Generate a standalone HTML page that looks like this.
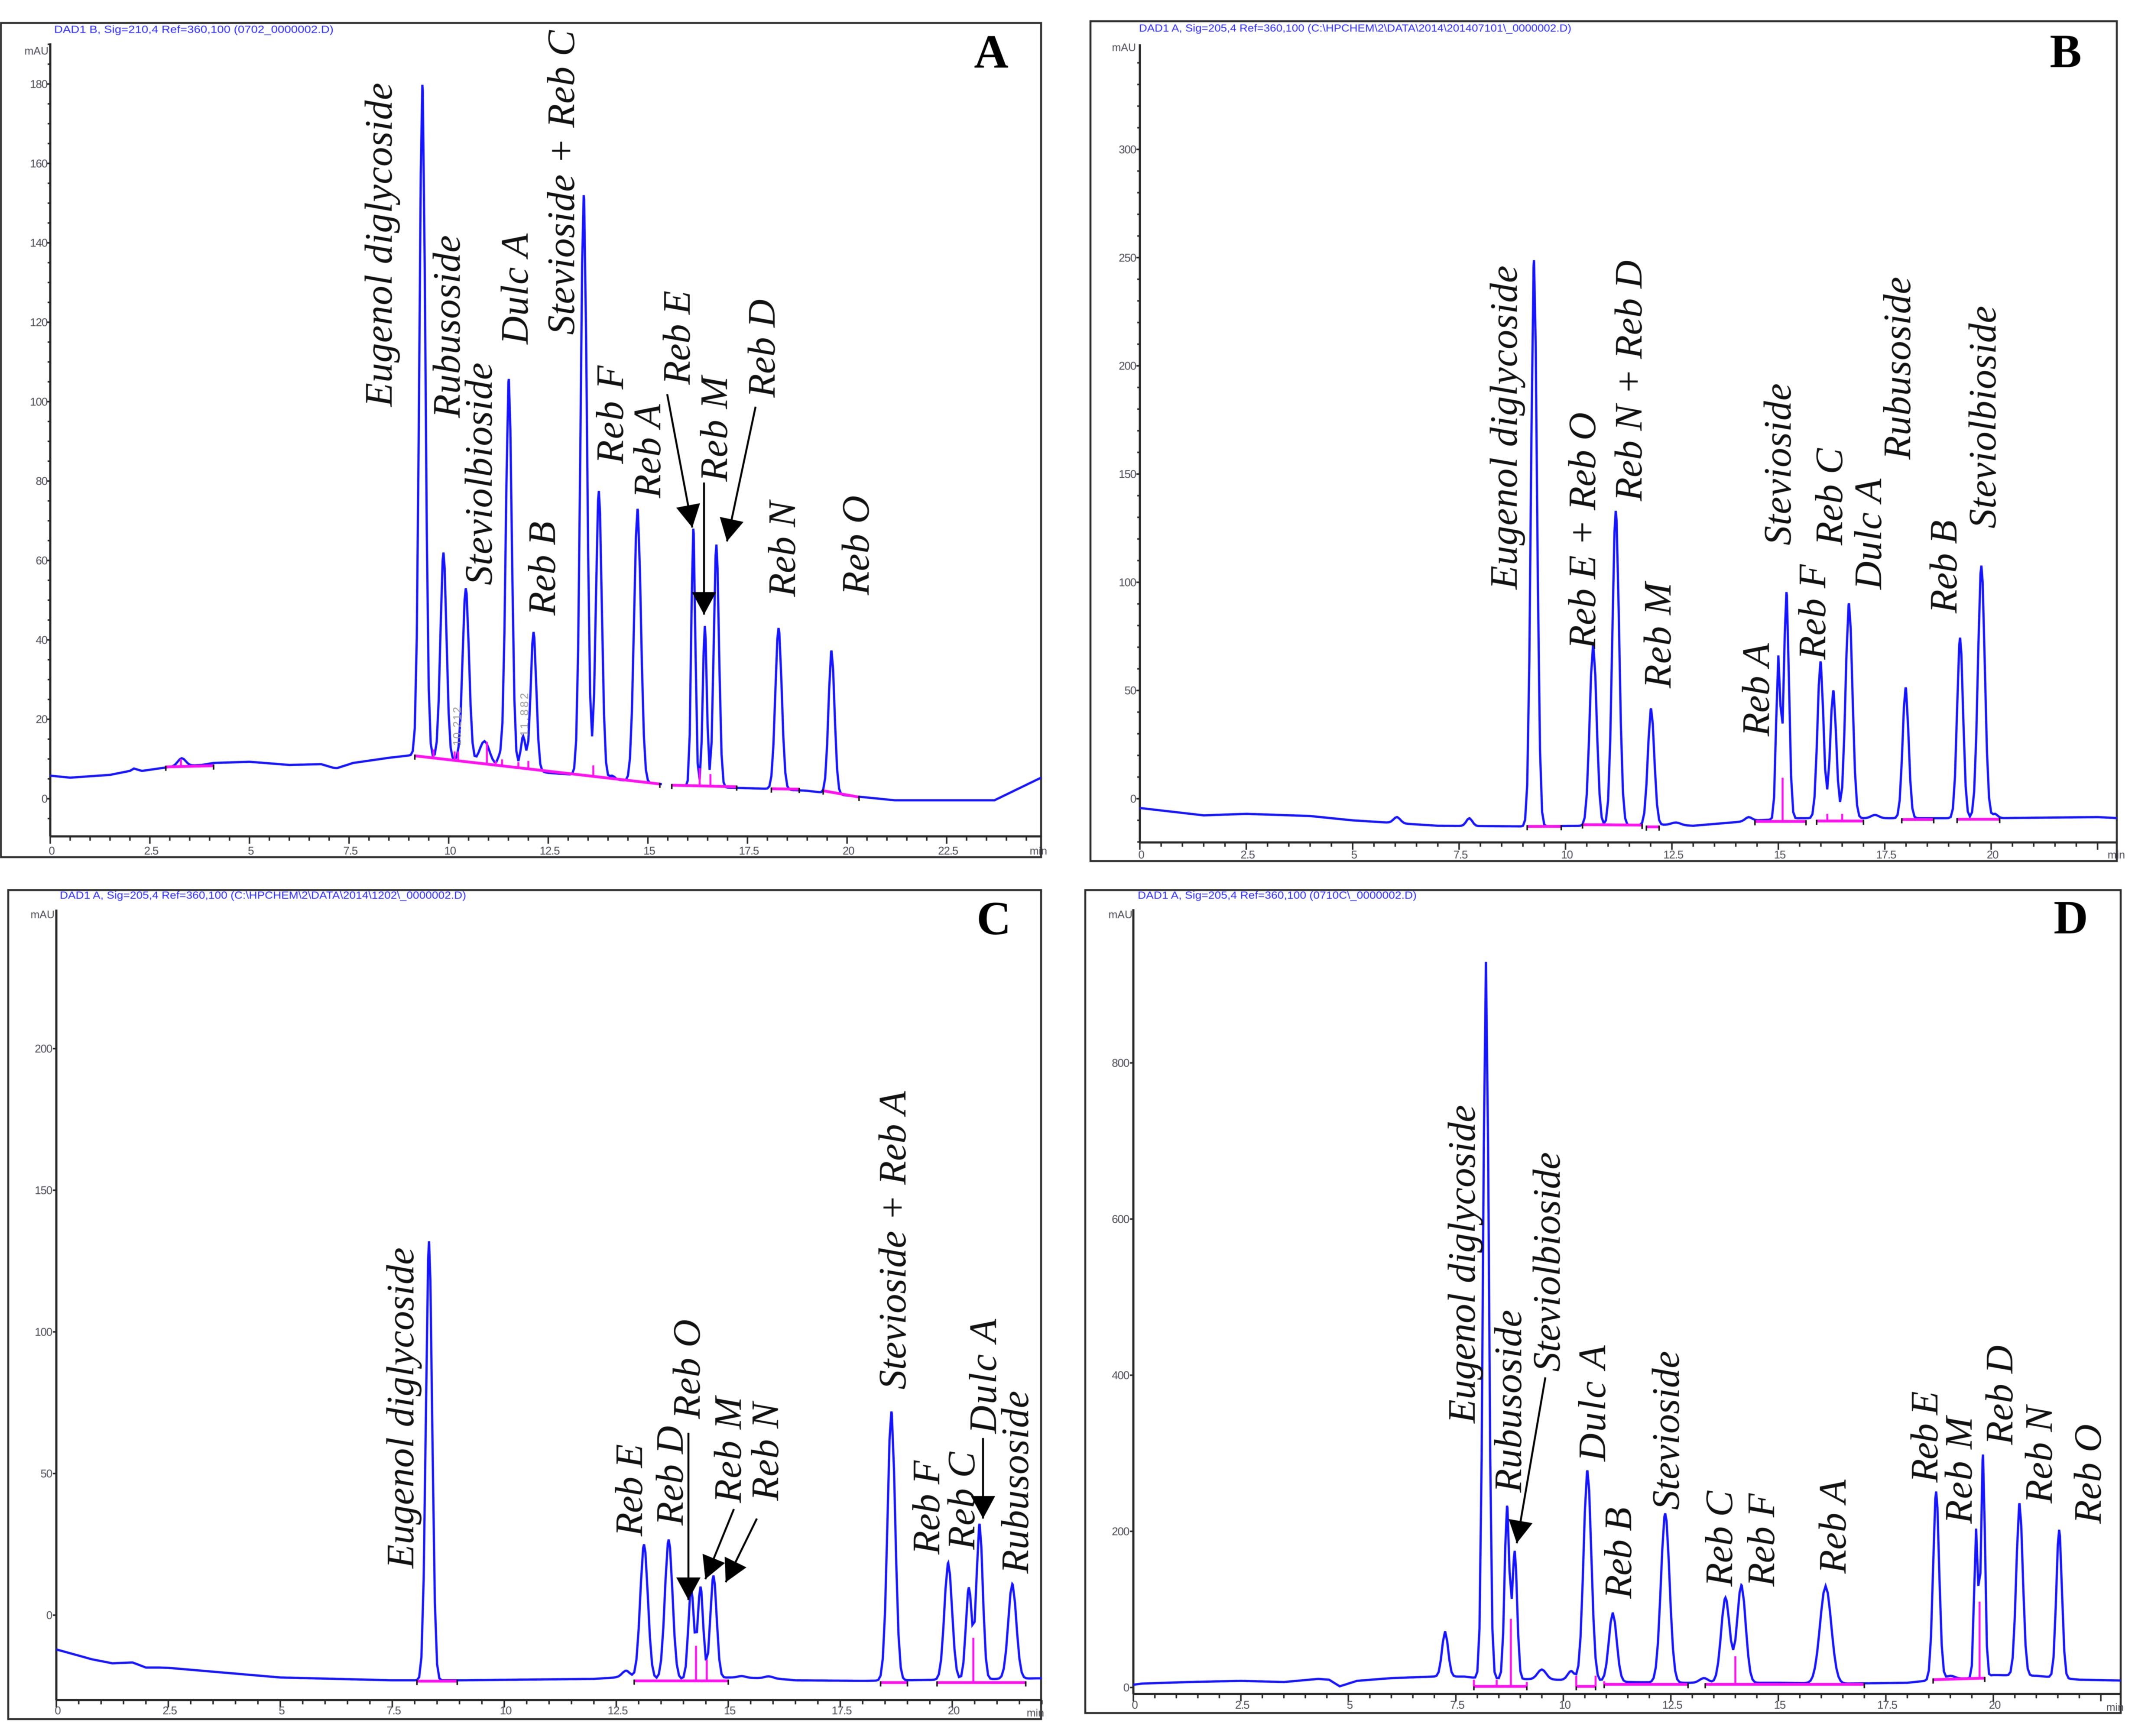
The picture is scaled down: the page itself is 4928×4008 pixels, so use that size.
<!DOCTYPE html>
<html lang="en">
<head>
<meta charset="utf-8">
<title>HPLC chromatograms A–D</title>
<style>
html,body{margin:0;padding:0;background:#fff;width:4928px;height:4008px;overflow:hidden}
svg{display:block;filter:blur(0.6px)}
.compound{font-family:"Liberation Serif",serif;font-style:italic;font-size:90px;fill:#111}
.letter{font-family:"Liberation Serif",serif;font-weight:bold;font-size:110px;fill:#000;text-anchor:middle}
.title{font-family:"Liberation Sans",sans-serif;font-size:24px;fill:#2a2aff}
.unit{font-family:"Liberation Sans",sans-serif;font-size:25px;fill:#4a4a55;text-anchor:end}
.rt{font-family:"Liberation Sans",sans-serif;font-size:26px;fill:#999}
.arrow{stroke:#000;stroke-width:4.5;fill:none}
.frame{fill:none;stroke:#2c2c2c;stroke-width:4.5}
</style>
</head>
<body>
<svg id="chart" xmlns="http://www.w3.org/2000/svg" width="4928" height="4008" viewBox="0 0 4928 4008">
  <defs>
    <marker id="arrowhead" markerUnits="userSpaceOnUse" markerWidth="54" markerHeight="56" refX="52" refY="28" orient="auto">
      <path d="M0 0 L52 28 L0 56 Z" fill="#000"></path>
    </marker>
  </defs>
  <rect x="0" y="0" width="4928" height="4008" fill="#fff"></rect>

  <g id="panel-a">
    <rect class="frame" x="2" y="53" width="2401" height="1926"></rect>
    <text class="title" x="125" y="76" textLength="645" lengthAdjust="spacingAndGlyphs">DAD1 B, Sig=210,4 Ref=360,100 (0702_0000002.D)</text>
    <text class="unit" x="112" y="126">mAU</text>
    <text class="unit" x="2417" y="1973">min</text>
    <text class="letter" x="2288" y="156">A</text>
  </g>
  <g id="panel-b">
    <rect class="frame" x="2517" y="49" width="2369" height="1939"></rect>
    <text class="title" x="2629" y="73" textLength="998" lengthAdjust="spacingAndGlyphs">DAD1 A, Sig=205,4 Ref=360,100 (C:\HPCHEM\2\DATA\2014\201407101\_0000002.D)</text>
    <text class="unit" x="2622" y="118">mAU</text>
    <text class="unit" x="4905" y="1982">min</text>
    <text class="letter" x="4768" y="155">B</text>
  </g>
  <g id="panel-c">
    <rect class="frame" x="19" y="2055" width="2384" height="1914"></rect>
    <text class="title" x="138" y="2075" textLength="938" lengthAdjust="spacingAndGlyphs">DAD1 A, Sig=205,4 Ref=360,100 (C:\HPCHEM\2\DATA\2014\1202\_0000002.D)</text>
    <text class="unit" x="126" y="2120">mAU</text>
    <text class="unit" x="2410" y="3963">min</text>
    <text class="letter" x="2294" y="2157">C</text>
  </g>
  <g id="panel-d">
    <rect class="frame" x="2505" y="2055" width="2390" height="1900"></rect>
    <text class="title" x="2626" y="2075" textLength="644" lengthAdjust="spacingAndGlyphs">DAD1 A, Sig=205,4 Ref=360,100 (0710C\_0000002.D)</text>
    <text class="unit" x="2614" y="2120">mAU</text>
    <text class="unit" x="4902" y="3950">min</text>
    <text class="letter" x="4780" y="2155">D</text>
  </g>

  <g id="overlay">
    <!-- retention time remnants in panel A -->
    <text class="rt" transform="translate(1064 1722) rotate(-90)" textLength="90">10.212</text>
    <text class="rt" transform="translate(1219 1700) rotate(-90)" textLength="100">11.882</text>

    <!-- Panel A peak labels -->
    <text class="compound" transform="translate(904 939) rotate(-90)" textLength="748">Eugenol diglycoside</text>
    <text class="compound" transform="translate(1061 965) rotate(-90)" textLength="422">Rubusoside</text>
    <text class="compound" transform="translate(1135 1351) rotate(-90)" textLength="514">Steviolbioside</text>
    <text class="compound" transform="translate(1218 795) rotate(-90)" textLength="256">Dulc A</text>
    <text class="compound" transform="translate(1325 773) rotate(-90)" textLength="703">Stevioside + Reb C</text>
    <text class="compound" transform="translate(1281 1421) rotate(-90)" textLength="217">Reb B</text>
    <text class="compound" transform="translate(1438 1071) rotate(-90)" textLength="227">Reb F</text>
    <text class="compound" transform="translate(1524 1150) rotate(-90)" textLength="217">Reb A</text>
    <text class="compound" transform="translate(1592 888) rotate(-90)" textLength="217">Reb E</text>
    <text class="compound" transform="translate(1678 1112) rotate(-90)" textLength="243">Reb M</text>
    <text class="compound" transform="translate(1788 918) rotate(-90)" textLength="227">Reb D</text>
    <text class="compound" transform="translate(1835 1378) rotate(-90)" textLength="221">Reb N</text>
    <text class="compound" transform="translate(2005 1374) rotate(-90)" textLength="230">Reb O</text>
    <line class="arrow" x1="1540" y1="910" x2="1598" y2="1218" marker-end="url(#arrowhead)"></line>
    <line class="arrow" x1="1625" y1="1114" x2="1625" y2="1419" marker-end="url(#arrowhead)"></line>
    <line class="arrow" x1="1744" y1="939" x2="1678" y2="1250" marker-end="url(#arrowhead)"></line>

    <!-- Panel B peak labels -->
    <text class="compound" transform="translate(3501 1361) rotate(-90)" textLength="748">Eugenol diglycoside</text>
    <text class="compound" transform="translate(3682 1498) rotate(-90)" textLength="546">Reb E + Reb O</text>
    <text class="compound" transform="translate(3789 1157) rotate(-90)" textLength="556">Reb N + Reb D</text>
    <text class="compound" transform="translate(3856 1589) rotate(-90)" textLength="244">Reb M</text>
    <text class="compound" transform="translate(4083 1700) rotate(-90)" textLength="215">Reb A</text>
    <text class="compound" transform="translate(4133 1259) rotate(-90)" textLength="374">Stevioside</text>
    <text class="compound" transform="translate(4213 1523) rotate(-90)" textLength="220">Reb F</text>
    <text class="compound" transform="translate(4252 1259) rotate(-90)" textLength="224">Reb C</text>
    <text class="compound" transform="translate(4342 1361) rotate(-90)" textLength="256">Dulc A</text>
    <text class="compound" transform="translate(4409 1061) rotate(-90)" textLength="422">Rubusoside</text>
    <text class="compound" transform="translate(4516 1416) rotate(-90)" textLength="215">Reb B</text>
    <text class="compound" transform="translate(4606 1220) rotate(-90)" textLength="514">Steviolbioside</text>

    <!-- Panel C peak labels -->
    <text class="compound" transform="translate(954 3621) rotate(-90)" textLength="741">Eugenol diglycoside</text>
    <text class="compound" transform="translate(1482 3547) rotate(-90)" textLength="213">Reb E</text>
    <text class="compound" transform="translate(1576 3522) rotate(-90)" textLength="230">Reb D</text>
    <text class="compound" transform="translate(1615 3276) rotate(-90)" textLength="230">Reb O</text>
    <text class="compound" transform="translate(1710 3470) rotate(-90)" textLength="245">Reb M</text>
    <text class="compound" transform="translate(1796 3465) rotate(-90)" textLength="227">Reb N</text>
    <text class="compound" transform="translate(2090 3208) rotate(-90)" textLength="689">Stevioside + Reb A</text>
    <text class="compound" transform="translate(2168 3589) rotate(-90)" textLength="217">Reb F</text>
    <text class="compound" transform="translate(2249 3578) rotate(-90)" textLength="226">Reb C</text>
    <text class="compound" transform="translate(2299 3310) rotate(-90)" textLength="265">Dulc A</text>
    <text class="compound" transform="translate(2373 3633) rotate(-90)" textLength="422">Rubusoside</text>
    <line class="arrow" x1="1589" y1="3308" x2="1589" y2="3694" marker-end="url(#arrowhead)"></line>
    <line class="arrow" x1="1694" y1="3484" x2="1628" y2="3646" marker-end="url(#arrowhead)"></line>
    <line class="arrow" x1="1747" y1="3506" x2="1675" y2="3653" marker-end="url(#arrowhead)"></line>
    <line class="arrow" x1="2269" y1="3320" x2="2269" y2="3506" marker-end="url(#arrowhead)"></line>

    <!-- Panel D peak labels -->
    <text class="compound" transform="translate(3404 3286) rotate(-90)" textLength="735">Eugenol diglycoside</text>
    <text class="compound" transform="translate(3511 3446) rotate(-90)" textLength="422">Rubusoside</text>
    <text class="compound" transform="translate(3600 3167) rotate(-90)" textLength="507">Steviolbioside</text>
    <text class="compound" transform="translate(3705 3374) rotate(-90)" textLength="268">Dulc A</text>
    <text class="compound" transform="translate(3765 3691) rotate(-90)" textLength="211">Reb B</text>
    <text class="compound" transform="translate(3875 3486) rotate(-90)" textLength="367">Stevioside</text>
    <text class="compound" transform="translate(3998 3663) rotate(-90)" textLength="221">Reb C</text>
    <text class="compound" transform="translate(4095 3663) rotate(-90)" textLength="215">Reb F</text>
    <text class="compound" transform="translate(4260 3633) rotate(-90)" textLength="217">Reb A</text>
    <text class="compound" transform="translate(4472 3423) rotate(-90)" textLength="211">Reb E</text>
    <text class="compound" transform="translate(4551 3518) rotate(-90)" textLength="247">Reb M</text>
    <text class="compound" transform="translate(4645 3336) rotate(-90)" textLength="230">Reb D</text>
    <text class="compound" transform="translate(4736 3471) rotate(-90)" textLength="225">Reb N</text>
    <text class="compound" transform="translate(4849 3518) rotate(-90)" textLength="230">Reb O</text>
    <line class="arrow" x1="3567" y1="3180" x2="3501" y2="3563" marker-end="url(#arrowhead)"></line>
  </g>
</svg>

<script>
/* ---------- Panel A data ---------- */
const aYTickLabels = ['0','20','40','60','80','100','120','140','160','180'];
const aXTickLabels = ['0','2.5','5','7.5','10','12.5','15','17.5','20','22.5'];
const aPeakTimes   = [3.3, 9.34, 9.87, 10.43, 10.9, 11.28, 11.51, 11.87, 12.13, 13.39, 13.77, 14.1, 14.74, 16.14, 16.43, 16.72, 18.28, 19.61];
const aPeakHeights = [10.2, 179.8, 62, 53, 14.5, 10.5, 105.7, 15.7, 42, 152, 77.5, 5.8, 73, 68, 43.5, 64, 43, 37.3];
const aPeakWidths  = [0.1, 0.075, 0.075, 0.08, 0.12, 0.05, 0.075, 0.06, 0.07, 0.08, 0.075, 0.07, 0.085, 0.05, 0.05, 0.065, 0.08, 0.075];
const aBaseTimes   = [0, 0.5, 1.5, 2, 2.1, 2.3, 3, 3.8, 4.1, 5, 6, 6.8, 7.1, 7.2, 7.6, 8.5, 9.1, 10, 11, 12, 12.5, 13.2, 14, 15, 15.4, 16.5, 17, 18, 19, 20, 21.2, 23.7, 24.85];
const aBaseValues  = [5.8, 5.3, 6, 7, 7.6, 7, 8, 8.5, 9, 9.3, 8.5, 8.7, 7.8, 7.7, 9, 10.3, 11, 10, 8.7, 7.5, 6.5, 6, 5, 4, 3.6, 3, 2.8, 2.5, 2, 0.8, -0.4, -0.4, 5.2];
const aTraceGapStarts = [15.35];
const aTraceGapEnds   = [15.96];
const aPinkStarts = [2.9, 9.15, 15.6, 18.1, 19.4];
const aPinkEnds   = [4.1, 15.3, 17.23, 18.8, 20.3];
const aPinkFrom   = [8, 10.8, 3.4, 2.5, 2];
const aPinkTo     = [8.3, 3.7, 3, 2.4, 0.4];
const aDropTimes  = [3.28, 9.62, 10.15, 10.24, 10.96, 11.18, 11.34, 11.75, 12.0, 13.63, 16.3, 16.57];
const aDropTops   = [10, 12.4, 11.9, 11.9, 14.3, 9.5, 9.9, 9.2, 9.5, 8.4, 7.7, 6.2];

/* ---------- Panel B data ---------- */
const bYTickLabels = ['0','50','100','150','200','250','300'];
const bXTickLabels = ['0','2.5','5','7.5','10','12.5','15','17.5','20'];
const bPeakTimes   = [6.04, 7.74, 9.26, 10.65, 11.18, 12.01, 12.6, 14.3, 15.0, 15.19, 15.99, 16.29, 16.66, 17.27, 17.99, 19.27, 19.77, 20.09];
const bPeakHeights = [-8.5, -9, 248.8, 72, 133, 41.7, -11, -8.5, 65.5, 95.4, 63.4, 50, 90.3, -7.5, 51.4, 74.4, 107.7, -7];
const bPeakWidths  = [0.08, 0.07, 0.07, 0.08, 0.08, 0.075, 0.1, 0.08, 0.05, 0.06, 0.07, 0.07, 0.08, 0.09, 0.07, 0.07, 0.08, 0.06];
const bBaseTimes   = [0, 1.5, 2.5, 4, 5, 7, 9, 10.5, 12.5, 13, 14.5, 15.5, 17, 18, 20, 22.5, 23];
const bBaseValues  = [-4.3, -7.7, -7, -8, -10, -12.5, -12.8, -12.5, -12, -12.5, -10, -9, -9, -9, -9, -8.5, -9];
const bTraceGapStarts = [];
const bTraceGapEnds   = [];
const bPinkStarts = [9.1, 10.4, 11.9, 14.45, 15.9, 17.9, 19.2];
const bPinkEnds   = [9.9, 11.8, 12.2, 15.65, 17, 18.65, 20.2];
const bPinkFrom   = [-12.8, -12, -13, -10.5, -10.3, -9.6, -9.5];
const bPinkTo     = [-12.8, -12.2, -13, -10.5, -10.3, -9.6, -9.5];
const bDropTimes  = [15.1, 16.15, 16.5];
const bDropTops   = [9.7, -7, -7];

/* ---------- Panel C data ---------- */
const cYTickLabels = ['0','50','100','150','200'];
const cXTickLabels = ['0','2.5','5','7.5','10','12.5','15','17.5','20'];
const cPeakTimes   = [8.32, 12.72, 13.12, 13.67, 14.17, 14.38, 14.67, 15.3, 15.9, 18.64, 19.91, 20.37, 20.61, 21.34];
const cPeakHeights = [132, -19.6, 25, 26.7, 9.7, 10, 14, -21.5, -21.6, 71.9, 18.5, 9.7, 32.2, 11];
const cPeakWidths  = [0.07, 0.09, 0.085, 0.085, 0.06, 0.06, 0.07, 0.09, 0.09, 0.085, 0.085, 0.065, 0.07, 0.09];
const cBaseTimes   = [0, 0.8, 1.25, 1.7, 2, 2.3, 2.5, 5, 7.5, 9, 12, 12.5, 13.6, 15, 16, 16.5, 18, 21.9];
const cBaseValues  = [-12.1, -15.6, -17, -16.7, -18.5, -18.5, -18.6, -22, -23, -23, -22.5, -22, -22.7, -22, -22.3, -23, -23.2, -22.3];
const cTraceGapStarts = [];
const cTraceGapEnds   = [];
const cPinkStarts = [8.05, 12.9, 18.4, 19.66];
const cPinkEnds   = [8.95, 15, 19, 21.64];
const cPinkFrom   = [-23.3, -23.2, -23.8, -23.8];
const cPinkTo     = [-23.3, -23.2, -23.8, -23.8];
const cDropTimes  = [14.28, 14.52, 20.47];
const cDropTops   = [-10.8, -15.7, -8];

/* ---------- Panel D data ---------- */
const dYTickLabels = ['0','200','400','600','800'];
const dXTickLabels = ['0','2.5','5','7.5','10','12.5','15','17.5','20'];
const dPeakTimes   = [7.25, 8.2, 8.69, 8.87, 9.5, 10.18, 10.56, 11.15, 12.37, 13.27, 13.77, 14.14, 16.1, 18.67, 19.0, 19.6, 19.76, 20.61, 21.53];
const dPeakHeights = [72, 928, 232, 174, 23, 21, 278, 96, 223, 12, 115, 131, 130, 251, 15, 203, 298, 236, 202];
const dPeakWidths  = [0.07, 0.065, 0.055, 0.055, 0.1, 0.08, 0.09, 0.09, 0.1, 0.1, 0.1, 0.1, 0.13, 0.07, 0.1, 0.045, 0.045, 0.075, 0.065];
const dBaseTimes   = [0, 0.2, 1.3, 2.5, 3.5, 4.3, 4.55, 4.8, 5.2, 6, 7, 7.7, 8, 9.8, 11.5, 12.8, 13.8, 15, 16.5, 18, 18.5, 19, 19.5, 20, 21, 22, 23];
const dBaseValues  = [3.5, 5, 7, 8.5, 7, 11, 10, 1.5, 8.5, 12, 14, 14, 12, 10, 7, 6, 6, 6, 5, 6, 9, 11, 12, 16, 15, 10, 8.9];
const dTraceGapStarts = [];
const dTraceGapEnds   = [];
const dPinkStarts = [7.92, 10.3, 10.95, 13.3, 18.6];
const dPinkEnds   = [9.15, 10.75, 12.9, 17, 19.8];
const dPinkFrom   = [1.4, 1.4, 4, 4, 10];
const dPinkTo     = [1.4, 1.4, 4, 4, 12];
const dDropTimes  = [7.92, 8.45, 8.78, 9.15, 10.3, 10.75, 10.95, 14, 19.68];
const dDropTops   = [10, 10, 88, 7, 15, 15, 8, 40, 110];

/* ---------- layout (pixels), separate from the data ---------- */
const aLayout = {id:'a', axisX:116, axisTop:100, axisY:1931, right:2403, zeroY:1844, pxPerUnit:9.167, pxPerMin:91.96, yStep:20, yMinor:5, yLabelGap:7, xLabelDrop:42};
const bLayout = {id:'b', axisX:2631, axisTop:102, axisY:1945, right:4886, zeroY:1844, pxPerUnit:4.997, pxPerMin:98.25, yStep:50, yMinor:10, yLabelGap:9, xLabelDrop:37};
const cLayout = {id:'c', axisX:130, axisTop:2100, axisY:3925, right:2405, zeroY:3729, pxPerUnit:6.54, pxPerMin:103.4, yStep:50, yMinor:0, yLabelGap:10, xLabelDrop:33};
const dLayout = {id:'d', axisX:2616, axisTop:2099, axisY:3911, right:4895, zeroY:3896, pxPerUnit:1.8025, pxPerMin:99.25, yStep:200, yMinor:0, yLabelGap:10, xLabelDrop:34};

const SVGNS = 'http://www.w3.org/2000/svg';
const BLUE = '#1414ff';
const PINK = '#ff10f0';
const AXIS = '#262626';

function make(parent, tag, attrs) {
  const node = document.createElementNS(SVGNS, tag);
  for (const k in attrs) node.setAttribute(k, attrs[k]);
  parent.appendChild(node);
  return node;
}

function lerp(ts, vs, t) {
  if (t <= ts[0]) return vs[0];
  for (let i = 1; i < ts.length; i++) {
    if (t <= ts[i]) return vs[i-1] + (vs[i]-vs[i-1]) * (t-ts[i-1]) / (ts[i]-ts[i-1]);
  }
  return vs[vs.length-1];
}

function drawPanel(L, d) {
  const g = document.getElementById('panel-' + L.id);
  const xOf = t => L.axisX + t * L.pxPerMin;
  const yOf = v => L.zeroY - v * L.pxPerUnit;
  const tMax = (L.right - L.axisX) / L.pxPerMin;
  const vMin = (L.zeroY - L.axisY) / L.pxPerUnit;
  const vMax = (L.zeroY - L.axisTop) / L.pxPerUnit;

  /* axes */
  const yAxis = make(g, 'line', {x1:L.axisX, x2:L.axisX, y1:L.axisTop, y2:L.axisY, stroke:AXIS, 'stroke-width':5});
  
  
  const xAxis = make(g, 'line', {x1:L.axisX, x2:L.right, y1:L.axisY, y2:L.axisY, stroke:AXIS, 'stroke-width':5});
  
  

  /* minor x ticks every 0.5 min, major ones from the tick label array and every 2.5 min */
  for (let i = 0; i * 0.5 <= tMax; i++) {
    const major = i % 5 === 0;
    const tick = make(g, 'line', {x1:xOf(i*0.5), x2:xOf(i*0.5), y1:L.axisY, y2:L.axisY + (major ? 17 : 10), stroke:AXIS, 'stroke-width':3.5});
    
    
  }
  d.xTicks.forEach(label => {
    const txt = make(g, 'text', {x:xOf(parseFloat(label)) + 3, y:L.axisY + L.xLabelDrop, 'text-anchor':'middle', 'font-family':'Liberation Sans, sans-serif', 'font-size':26, 'letter-spacing':-1.2, fill:'#4a4a55'});
    txt.textContent = label;
    
    
  });

  /* y ticks */
  if (L.yMinor) {
    for (let v = Math.ceil(vMin / L.yMinor) * L.yMinor; v <= vMax; v += L.yMinor) {
      const tick = make(g, 'line', {x1:L.axisX - 6, x2:L.axisX, y1:yOf(v), y2:yOf(v), stroke:AXIS, 'stroke-width':3.5});
      
      
    }
  }
  d.yTicks.forEach(label => {
    const v = parseFloat(label);
    const tick = make(g, 'line', {x1:L.axisX - 8, x2:L.axisX, y1:yOf(v), y2:yOf(v), stroke:AXIS, 'stroke-width':3.5});
    
    
    const txt = make(g, 'text', {x:L.axisX - L.yLabelGap, y:yOf(v) + 9, 'text-anchor':'end', 'font-family':'Liberation Sans, sans-serif', 'font-size':26, 'letter-spacing':-1.2, fill:'#4a4a55'});
    txt.textContent = label;
    
    
  });

  /* trace = baseline knots + peaks, peak arrays hold apex values */
  const heights = d.peakTimes.map((t, i) => d.peakHeights[i] - lerp(d.baseTimes, d.baseValues, t));
  const signal = t => {
    let v = lerp(d.baseTimes, d.baseValues, t);
    d.peakTimes.forEach((pt, i) => {
      const z = (t - pt) / d.peakWidths[i];
      if (Math.abs(z) < 5) v += heights[i] * Math.exp(-0.5 * z * z);
    });
    return v;
  };
  let grid = d.peakTimes.concat(d.baseTimes).concat(d.gapStarts).concat(d.gapEnds);
  for (let i = 0; i * 0.05 <= tMax; i++) grid.push(i * 0.05);
  grid.push(tMax);
  grid = grid.filter(t => t >= 0 && t <= tMax).sort((a, b) => a - b);

  const inGap = t => d.gapStarts.some((s, i) => t > s && t < d.gapEnds[i]);
  let path = '', pen = false;
  grid.forEach(t => {
    if (inGap(t)) { pen = false; return; }
    path += (pen ? 'L' : 'M') + xOf(t).toFixed(1) + ' ' + yOf(signal(t)).toFixed(1);
    pen = true;
  });
  const trace = make(g, 'path', {d:path, fill:'none', stroke:BLUE, 'stroke-width':5.2, 'stroke-linejoin':'miter'});
  
  

  /* integration baselines */
  const pinkAt = t => {
    for (let i = 0; i < d.pinkStarts.length; i++) {
      if (t >= d.pinkStarts[i] && t <= d.pinkEnds[i]) {
        return d.pinkFrom[i] + (d.pinkTo[i] - d.pinkFrom[i]) * (t - d.pinkStarts[i]) / (d.pinkEnds[i] - d.pinkStarts[i]);
      }
    }
    return lerp(d.baseTimes, d.baseValues, t);
  };
  d.pinkStarts.forEach((s, i) => {
    const seg = make(g, 'line', {x1:xOf(s), x2:xOf(d.pinkEnds[i]), y1:yOf(d.pinkFrom[i]), y2:yOf(d.pinkTo[i]), stroke:PINK, 'stroke-width':6.5});
    
    
    [s, d.pinkEnds[i]].forEach((t, k) => {
      const v = k === 0 ? d.pinkFrom[i] : d.pinkTo[i];
      const mark = make(g, 'line', {x1:xOf(t), x2:xOf(t), y1:yOf(v) - 3, y2:yOf(v) + 9, stroke:'#111', 'stroke-width':3.5});
      
      
    });
  });
  d.dropTimes.forEach((t, i) => {
    const drop = make(g, 'line', {x1:xOf(t), x2:xOf(t), y1:yOf(pinkAt(t)), y2:yOf(d.dropTops[i]), stroke:PINK, 'stroke-width':4.6});
    
    
  });
}

drawPanel(aLayout, {yTicks:aYTickLabels, xTicks:aXTickLabels, peakTimes:aPeakTimes, peakHeights:aPeakHeights, peakWidths:aPeakWidths, baseTimes:aBaseTimes, baseValues:aBaseValues, gapStarts:aTraceGapStarts, gapEnds:aTraceGapEnds, pinkStarts:aPinkStarts, pinkEnds:aPinkEnds, pinkFrom:aPinkFrom, pinkTo:aPinkTo, dropTimes:aDropTimes, dropTops:aDropTops});
drawPanel(bLayout, {yTicks:bYTickLabels, xTicks:bXTickLabels, peakTimes:bPeakTimes, peakHeights:bPeakHeights, peakWidths:bPeakWidths, baseTimes:bBaseTimes, baseValues:bBaseValues, gapStarts:bTraceGapStarts, gapEnds:bTraceGapEnds, pinkStarts:bPinkStarts, pinkEnds:bPinkEnds, pinkFrom:bPinkFrom, pinkTo:bPinkTo, dropTimes:bDropTimes, dropTops:bDropTops});
drawPanel(cLayout, {yTicks:cYTickLabels, xTicks:cXTickLabels, peakTimes:cPeakTimes, peakHeights:cPeakHeights, peakWidths:cPeakWidths, baseTimes:cBaseTimes, baseValues:cBaseValues, gapStarts:cTraceGapStarts, gapEnds:cTraceGapEnds, pinkStarts:cPinkStarts, pinkEnds:cPinkEnds, pinkFrom:cPinkFrom, pinkTo:cPinkTo, dropTimes:cDropTimes, dropTops:cDropTops});
drawPanel(dLayout, {yTicks:dYTickLabels, xTicks:dXTickLabels, peakTimes:dPeakTimes, peakHeights:dPeakHeights, peakWidths:dPeakWidths, baseTimes:dBaseTimes, baseValues:dBaseValues, gapStarts:dTraceGapStarts, gapEnds:dTraceGapEnds, pinkStarts:dPinkStarts, pinkEnds:dPinkEnds, pinkFrom:dPinkFrom, pinkTo:dPinkTo, dropTimes:dDropTimes, dropTops:dDropTops});

/* keep labels and arrows above the traces */
const chartRoot = document.getElementById('chart');
chartRoot.appendChild(document.getElementById('overlay'));
</script>
</body>
</html>
